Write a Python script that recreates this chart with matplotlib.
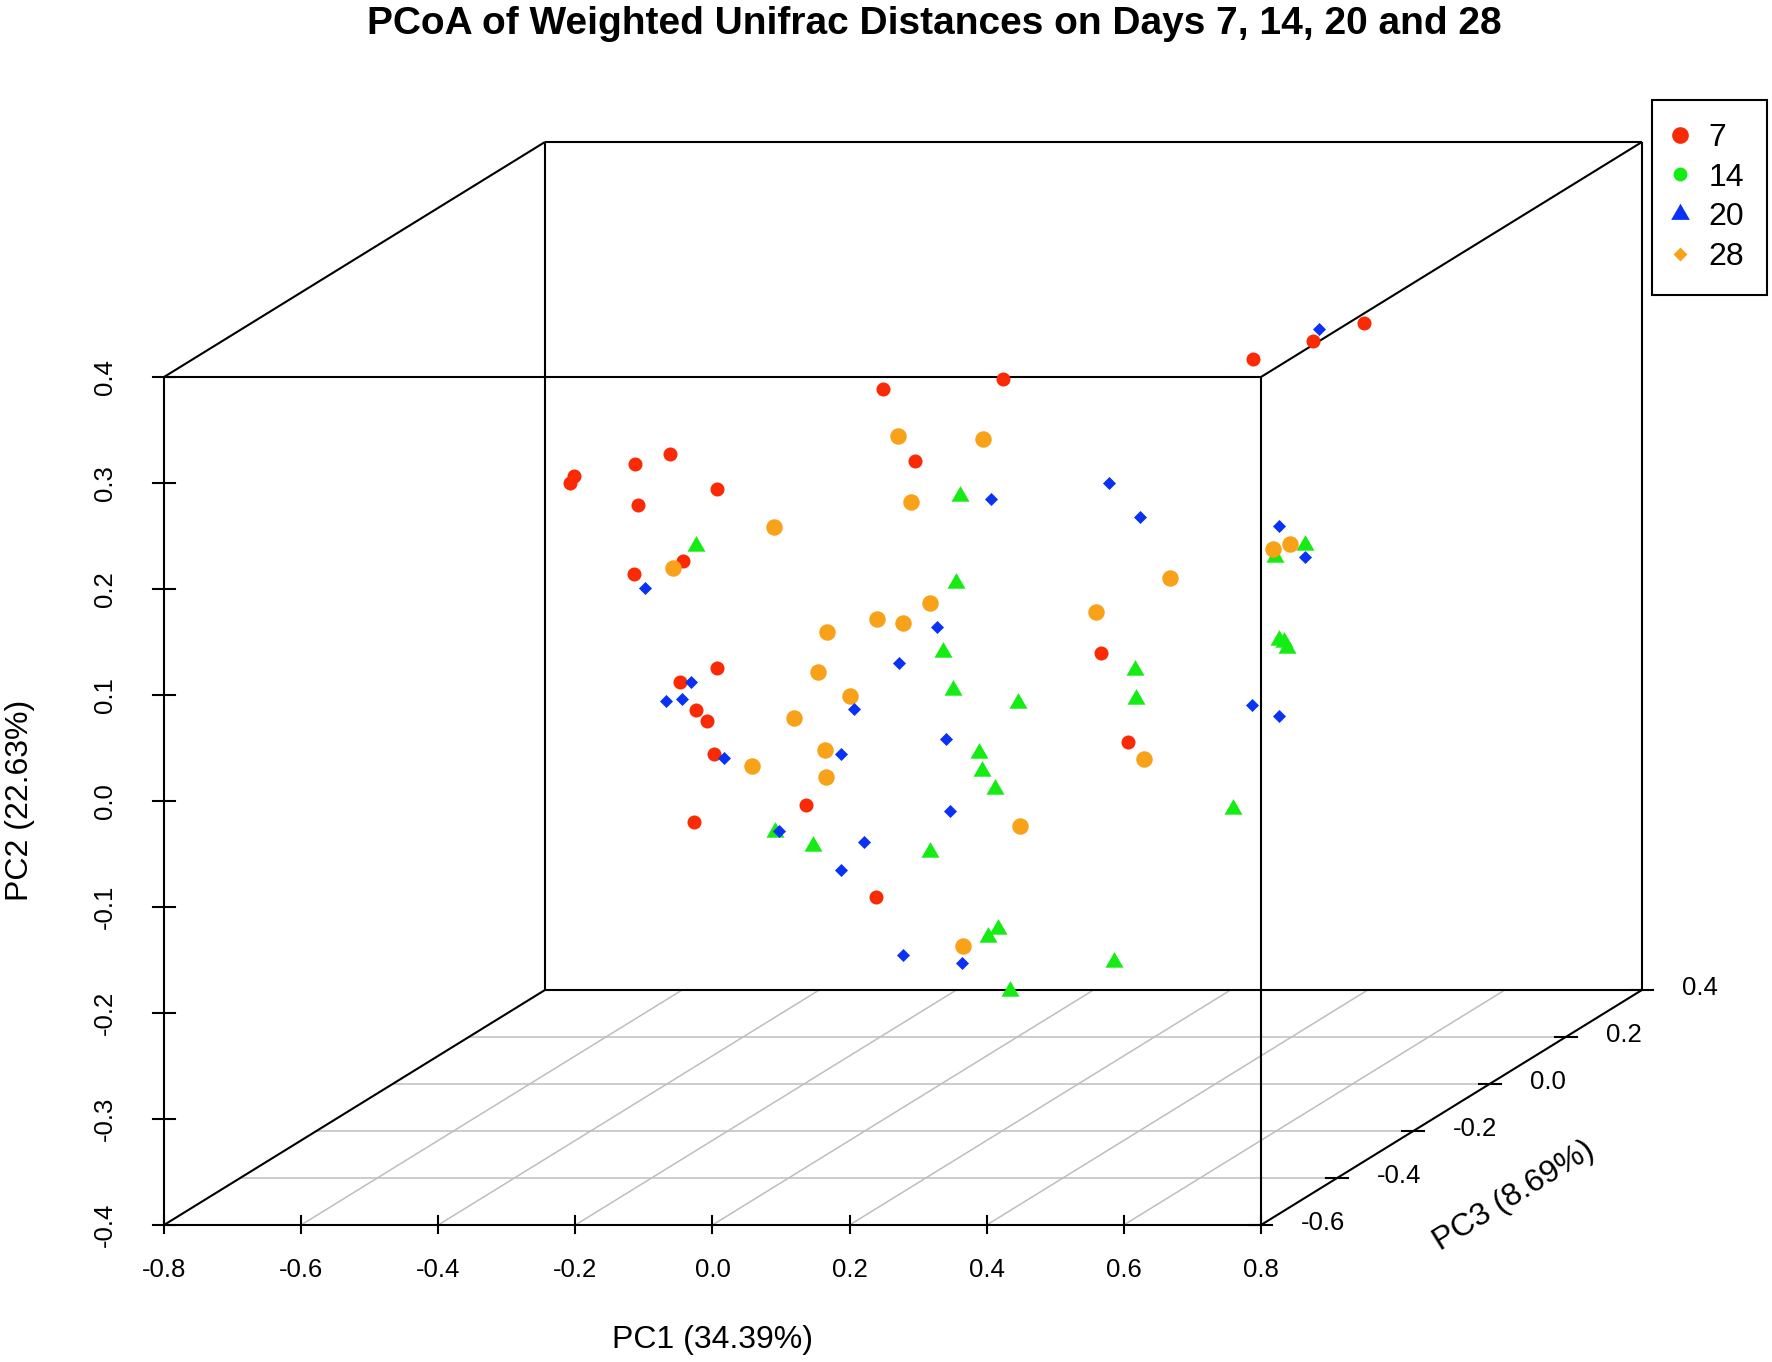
import matplotlib
matplotlib.use("Agg")
import matplotlib.pyplot as plt
import numpy as np
from matplotlib.lines import Line2D
from matplotlib.path import Path

plt.rcParams['font.family'] = ['Liberation Sans', 'DejaVu Sans']

# ---------------- text ----------------
title = "PCoA of Weighted Unifrac Distances on Days 7, 14, 20 and 28"
xlabel = "PC1 (34.39%)"
ylabel = "PC2 (22.63%)"
zlabel = "PC3 (8.69%)"
x_ticks = [-0.8, -0.6, -0.4, -0.2, 0.0, 0.2, 0.4, 0.6, 0.8]
y_ticks = [-0.4, -0.3, -0.2, -0.1, 0.0, 0.1, 0.2, 0.3, 0.4]
z_ticks = [-0.6, -0.4, -0.2, 0.0, 0.2, 0.4]
legend_labels = ["7", "14", "20", "28"]

# ---------------- data (PC1, PC2, PC3) ----------------
# red circles
red_pc1 = [-0.0842, -0.0375, -0.3126, -0.3189, -0.2245, -0.2847, -0.2161, -0.2193,
           -0.2648, -0.2256, -0.2157, -0.1580, -0.1356, -0.2303, -0.2196, -0.1970,
           -0.1385, -0.0949, 0.1611, 0.1221, 0.4318, 0.5057, 0.3443, 0.0908]
red_pc2 = [0.2557, 0.1875, 0.2623, 0.2554, 0.2739, 0.2384, 0.2059, 0.2347,
           0.1375, 0.1702, 0.0368, 0.0683, 0.0416, -0.0129, -0.0444, -0.1365,
           -0.0644, -0.2239, -0.1220, -0.0375, 0.2566, 0.2732, 0.2399, 0.2654]
red_pc3 = [0.0, 0.0, -0.4, -0.4, -0.4, -0.2, -0.2, -0.4,
           -0.2, -0.4, -0.2, -0.4, -0.4, -0.2, -0.2, 0.0,
           -0.4, 0.0, 0.2, 0.2, 0.2, 0.2, 0.2, 0.0]

# green triangles
green_pc1 = [-0.1351, 0.0276, 0.0218, 0.0033, 0.0179, 0.0549, 0.1713, 0.0787,
             -0.0195, 0.0351, -0.0157, 0.0835, 0.0689, -0.0102, 0.1127, 0.1727,
             0.3151, 0.1415, 0.1721, 0.4197, 0.3755, 0.3813, 0.3890, 0.3938]
green_pc2 = [0.1963, 0.1550, 0.0724, 0.0079, -0.0283, -0.0874, -0.0601, -0.1220,
             -0.0732, -0.0864, -0.1814, -0.2540, -0.2610, -0.3566, -0.0408, -0.0811,
             -0.1852, -0.3290, -0.0538, 0.0641, 0.0531, -0.0255, -0.0271, -0.0333]
green_pc3 = [-0.4, 0.0, 0.0, 0.0, 0.0, 0.0, -0.2, 0.0,
             -0.4, -0.4, 0.0, 0.0, 0.0, 0.2, 0.0, 0.2,
             0.2, 0.2, 0.2, 0.2, 0.2, 0.2, 0.2, 0.2]

# orange circles
orange_pc1 = [-0.0623, 0.0607, 0.0677, -0.0214, -0.1687, -0.0157, 0.0177, -0.0551,
              -0.0557, -0.0679, -0.0217, 0.0083, -0.0530, -0.0577, -0.0571, 0.0316,
              0.1848, 0.1152, 0.3726, 0.3982, 0.2228, 0.1144]
orange_pc2 = [0.2116, 0.2085, 0.1937, 0.2139, 0.1753, 0.0541, 0.0828, 0.0347,
              0.0711, 0.0333, 0.0104, 0.0343, -0.0112, -0.0408, -0.0663, -0.2695,
              -0.1378, -0.1566, 0.0603, 0.0651, 0.0327, 0.0006]
orange_pc3 = [0.0, 0.0, -0.2, -0.4, -0.4, 0.0, -0.2, 0.0,
              -0.2, -0.2, -0.2, -0.4, -0.4, -0.2, -0.2, 0.0,
              0.2, 0.0, 0.2, 0.2, 0.2, 0.2]

# blue diamonds
blue_pc1 = [0.0729, -0.2100, -0.0063, -0.0609, -0.1424, -0.1793, -0.1551, -0.0163,
            0.0068, -0.0943, -0.0348, 0.0135, -0.0145, -0.0013, -0.0348, -0.0555,
            0.0310, 0.3424, 0.3822, 0.4397, 0.1342, 0.1786, 0.3822, 0.4192]
blue_pc2 = [0.1516, 0.1564, 0.0315, -0.0031, 0.0677, 0.0501, 0.0520, -0.0019,
            -0.0745, -0.0040, -0.0441, -0.1421, -0.0726, -0.1271, -0.1538, -0.2785,
            -0.2855, -0.0868, -0.0972, 0.2679, 0.1229, 0.0902, 0.0818, 0.0531]
blue_pc3 = [0.0, -0.4, 0.0, 0.0, -0.4, -0.4, -0.4, -0.2,
            0.0, -0.4, -0.2, 0.0, -0.4, -0.2, -0.2, 0.0,
            0.0, 0.2, 0.2, 0.2, 0.2, 0.2, 0.2, 0.2]

# ---------------- style ----------------
C_RED = "#FA2A05"
C_GREEN = "#14EC14"
C_BLUE = "#0A32F5"
C_ORANGE = "#F8A21A"
C_GRID = "#BEBEBE"

XLIM = (-0.8, 0.8)
YLIM = (-0.4, 0.4)
ZLIM = (-0.6, 0.4)
KX, KY = 0.5557, 0.2217   # oblique projection of the depth axis


def proj(x, y, z):
    x = np.asarray(x, float); y = np.asarray(y, float); z = np.asarray(z, float)
    return x + KX * (z - ZLIM[0]), y + KY * (z - ZLIM[0])


# triangle (R pch 17) and diamond (R pch 18) shapes
tri = Path([(0, 1.555), (1.3468, -0.7776), (-1.3468, -0.7776), (0, 1.555)],
           [Path.MOVETO, Path.LINETO, Path.LINETO, Path.CLOSEPOLY])
dia = Path([(0, 1), (1, 0), (0, -1), (-1, 0), (0, 1)],
           [Path.MOVETO, Path.LINETO, Path.LINETO, Path.LINETO, Path.CLOSEPOLY])

W, H = 1772, 1362
fig = plt.figure(figsize=(W / 100, H / 100), dpi=100)
ax = fig.add_axes([0, 0, 1, 1])
X0, Y1 = -1.0392, 0.75566
SX, SY = 685.6, 1060.0
ax.set_xlim(X0, X0 + W / SX)
ax.set_ylim(Y1 - H / SY, Y1)
ax.axis("off")


def pix(px, py):
    return X0 + px / SX, Y1 - py / SY


# floor grid
for z in z_ticks[1:-1]:
    xs, ys = proj([XLIM[0], XLIM[1]], [YLIM[0]] * 2, [z, z])
    ax.plot(xs, ys, color=C_GRID, lw=1.1, zorder=1)
for x in x_ticks[1:-1]:
    xs, ys = proj([x, x], [YLIM[0]] * 2, [ZLIM[0], ZLIM[1]])
    ax.plot(xs, ys, color=C_GRID, lw=1.1, zorder=1)

# box
corners = [(a, b, c) for a in XLIM for b in YLIM for c in ZLIM]
for i, p in enumerate(corners):
    for q in corners[i + 1:]:
        if sum(1 for u, v in zip(p, q) if u != v) == 1:
            xs, ys = proj([p[0], q[0]], [p[1], q[1]], [p[2], q[2]])
            ax.plot(xs, ys, color="black", lw=1.5, zorder=2, solid_capstyle="butt")

# ticks
TX = 11 / SX
TY = 8.5 / SY
TICK_FS = 18.5
for x in x_ticks:
    px_, py_ = proj(x, YLIM[0], ZLIM[0])
    ax.plot([px_, px_], [py_ - TY, py_ + TY], color="black", lw=1.5, zorder=2)
    lx, ly = pix(0, 1270)
    ax.text(px_, ly, f"{x:.1f}", ha="center", va="center", fontsize=TICK_FS)
for y in y_ticks:
    px_, py_ = proj(XLIM[0], y, ZLIM[0])
    ax.plot([px_ - TX, px_ + TX], [py_, py_], color="black", lw=1.5, zorder=2)
    lx, ly = pix(105, 0)
    ax.text(lx, py_, f"{y:.1f}", ha="center", va="center", rotation=90,
            rotation_mode="anchor", fontsize=TICK_FS)
for z in z_ticks:
    px_, py_ = proj(XLIM[1], YLIM[0], z)
    ax.plot([px_ - TX, px_ + TX], [py_, py_], color="black", lw=1.5, zorder=2)
    ax.text(px_ + 40 / SX, py_ + 2 / SY, f"{z:.1f}", ha="left", va="center",
            fontsize=TICK_FS)

# points
ax.scatter(*proj(red_pc1, red_pc2, red_pc3), s=102, marker="o", color=C_RED,
           linewidths=0, zorder=3)
ax.scatter(*proj(green_pc1, green_pc2, green_pc3), s=224, marker=tri, color=C_GREEN,
           linewidths=0, zorder=3)
ax.scatter(*proj(orange_pc1, orange_pc2, orange_pc3), s=141, marker="o", color=C_ORANGE,
           linewidths=0, zorder=4)
ax.scatter(*proj(blue_pc1, blue_pc2, blue_pc3), s=88, marker=dia, color=C_BLUE,
           linewidths=0, zorder=5)

# labels
tx, ty = pix(934, 34.5)
ax.text(tx, ty, title, ha="center", va="baseline", fontsize=28, fontweight="bold")
lx, ly = pix(713, 1340)
ax.text(lx, ly, xlabel, ha="center", va="center", fontsize=23)
lx, ly = pix(20, 800)
ax.text(lx, ly, ylabel, ha="center", va="center", rotation=90, rotation_mode="anchor",
        fontsize=23)
lx, ly = pix(1514, 1196)
ax.text(lx, ly, zlabel, ha="center", va="center", rotation=31.7, rotation_mode="anchor",
        fontsize=23)

# legend
handles = [
    Line2D([], [], marker="o", linestyle="none", color=C_RED, markersize=12, markeredgewidth=0),
    Line2D([], [], marker="o", linestyle="none", color=C_GREEN, markersize=10, markeredgewidth=0),
    Line2D([], [], marker=tri, linestyle="none", color=C_BLUE, markersize=15.5, markeredgewidth=0),
    Line2D([], [], marker=dia, linestyle="none", color=C_ORANGE, markersize=10, markeredgewidth=0),
]
leg = fig.legend(handles, legend_labels, loc="upper right",
                 bbox_to_anchor=(1767 / W, 1 - 100 / H), borderaxespad=0,
                 fontsize=23, frameon=True, fancybox=False, borderpad=0.72,
                 labelspacing=0.3, handlelength=0.32, handletextpad=0.72)
leg.get_frame().set_edgecolor("black")
leg.get_frame().set_linewidth(1.5)
leg.get_frame().set_alpha(1)

fig.savefig("out.png", dpi=100)
